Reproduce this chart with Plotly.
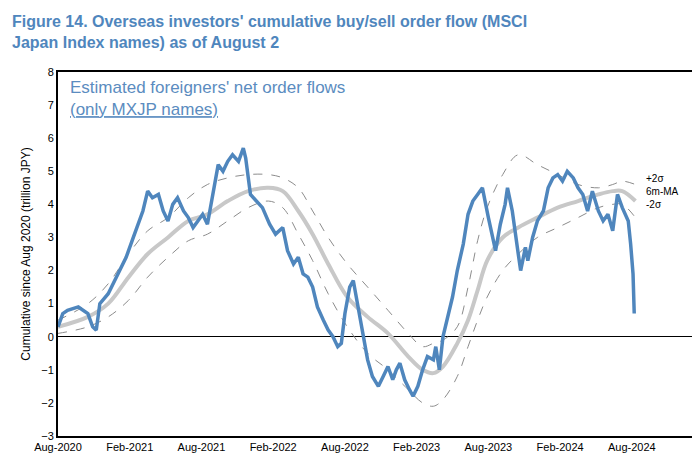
import plotly.graph_objects as go

# months since Aug-2020
flow_m = [0, .4, .8, 1.7, 2.5, 2.9, 3.2, 3.5, 4.2, 5.0, 5.7, 6.3, 7.1, 7.5, 7.9, 8.4, 8.8, 9.2, 9.6, 10.0,
          10.5, 10.9, 11.3, 11.7, 12.1, 12.5, 13.0, 13.4, 13.8, 14.2, 14.6, 15.1, 15.5, 15.7, 16.1, 16.6,
          17.1, 17.7, 18.2, 18.8, 19.2, 19.7, 20.1, 20.5, 20.9, 21.3, 21.7, 22.2, 22.6, 23.0, 23.4, 23.7,
          24.0, 24.4, 24.7, 24.9, 25.3, 25.6, 25.9, 26.3, 26.8, 27.2, 27.6, 28.0, 28.3, 28.6, 29.0, 29.4,
          29.7, 30.1, 30.5, 30.9, 31.4, 31.6, 31.9, 32.2, 32.6, 33.0, 33.4, 33.9, 34.3, 34.7, 35.1, 35.5,
          36.0, 36.4, 36.6, 37.0, 37.4, 37.6, 38.0, 38.5, 38.7, 39.1, 39.3, 39.7, 40.1, 40.6, 41.0, 41.4,
          41.8, 42.2, 42.6, 43.1, 43.5, 43.9, 44.3, 44.7, 45.2, 45.6, 46.0, 46.4, 46.8, 47.2, 47.7, 47.9,
          48.1, 48.2]
flow = [0.3, 0.7, 0.8, 0.9, 0.7, 0.3, 0.2, 1.0, 1.3, 1.9, 2.4, 3.0, 3.8, 4.4, 4.2, 4.3, 3.8, 3.5, 4.0, 4.2,
        3.8, 3.6, 3.3, 3.5, 3.7, 3.4, 4.4, 5.2, 5.0, 5.3, 5.5, 5.3, 5.7, 5.4, 4.3, 4.1,
        3.9, 3.4, 3.1, 3.3, 2.6, 2.2, 2.4, 1.9, 1.8, 1.5, 0.9, 0.5, 0.2, 0.0, -0.3, -0.2,
        0.7, 1.5, 1.7, 1.3, 0.5, -0.2, -0.7, -1.2, -1.5, -1.2, -0.9, -1.3, -1.0, -0.8, -1.3, -1.6,
        -1.8, -1.5, -1.0, -0.6, -0.7, -0.3, -1.0, 0.0, 0.6, 1.2, 2.0, 2.8, 3.7, 4.1, 4.3, 4.5,
        3.6, 3.0, 2.6, 3.4, 4.0, 4.5, 3.8, 2.5, 2.0, 2.7, 2.3, 3.0, 3.5, 3.8, 4.5, 4.8,
        4.9, 4.7, 5.0, 4.8, 4.5, 4.3, 3.8, 4.4, 3.8, 3.5, 3.7, 3.2, 4.3, 3.9, 3.5, 2.8,
        1.9, 0.7]

band_m = [0, 2.5, 4.2, 5.9, 7.5, 9.2, 10.9, 12.5, 14.2, 15.9, 17.6, 18.8, 20.1, 21.3, 22.6, 24.2, 25.9,
          27.6, 29.3, 30.5, 31.4, 32.2, 33.4, 34.3, 35.1, 35.9, 37.2, 38.5, 40.1, 41.8, 43.5, 45.2, 46.4,
          47.2, 48.3]
ma = [0.3, 0.6, 1.0, 1.8, 2.5, 3.0, 3.5, 3.7, 4.1, 4.4, 4.5, 4.4, 3.8, 3.1, 2.2, 1.2, 0.6, 0.1, -0.6, -1.0,
      -1.1, -0.9, -0.2, 0.5, 1.4, 2.3, 3.0, 3.3, 3.6, 3.9, 4.1, 4.3, 4.4, 4.4, 4.1]
upper = [0.5, 1.0, 1.6, 2.5, 3.2, 3.6, 4.2, 4.6, 4.8, 4.9, 4.9, 4.8, 4.5, 3.8, 3.0, 2.2, 1.5, 0.8, 0.1, -0.3,
         -0.2, -0.1, 0.3, 1.5, 2.9, 3.9, 4.9, 5.5, 5.2, 4.9, 4.6, 4.5, 4.6, 4.7, 4.6]
lower = [0.1, 0.3, 0.6, 1.1, 1.8, 2.4, 2.9, 3.1, 3.5, 3.9, 4.1, 3.9, 3.1, 2.3, 1.3, 0.3, -0.5, -1.0, -1.6, -2.0,
         -2.1, -1.9, -1.2, -0.3, 0.5, 1.2, 2.0, 2.5, 3.0, 3.3, 3.6, 3.9, 4.0, 4.0, 3.6]

tick_m = [0, 6, 12, 18, 24, 30, 36, 42, 48]
tick_labels = ["Aug-2020", "Feb-2021", "Aug-2021", "Feb-2022", "Aug-2022",
               "Feb-2023", "Aug-2023", "Feb-2024", "Aug-2024"]

blue = "#4f86bd"
fig = go.Figure()
for y in (upper, lower):
    fig.add_trace(go.Scatter(x=band_m, y=y, mode="lines", line=dict(color="#8c8c8c", width=1, dash="dash"),
                             line_shape="spline"))
fig.add_trace(go.Scatter(x=band_m, y=ma, mode="lines", line=dict(color="#c8c8c8", width=4), line_shape="spline"))
fig.add_trace(go.Scatter(x=flow_m, y=flow, mode="lines", line=dict(color=blue, width=3.5)))

fig.update_layout(
    width=700, height=457, showlegend=False, plot_bgcolor="white", paper_bgcolor="white",
    margin=dict(l=50, r=14, t=64, b=20),
    font=dict(family="Liberation Sans", size=11, color="black"),
    xaxis=dict(range=[0, 53.2], tickvals=tick_m, ticktext=tick_labels, showgrid=False,
               showline=True, mirror=True, linecolor="black", linewidth=2, zeroline=False, ticks=""),
    yaxis=dict(range=[-3, 8], dtick=1, showgrid=False, showline=True, mirror=True, linecolor="black",
               linewidth=2, zeroline=True, zerolinecolor="black", zerolinewidth=1, ticks="",
               title=dict(text="Cumulative since Aug 2020 (trillion JPY)", standoff=8, font=dict(size=12))),
    annotations=[
        dict(text="<b>Figure 14. Overseas investors' cumulative buy/sell order flow (MSCI<br>Japan Index names) as of August 2</b>",
             xref="paper", yref="paper", x=-0.075, y=1.168, xanchor="left", yanchor="top", showarrow=False,
             align="left", font=dict(size=16, color=blue)),
        dict(text="Estimated foreigners' net order flows<br><u>(only MXJP names)</u>", xref="paper", yref="paper",
             x=0.015, y=0.99, xanchor="left", yanchor="top", showarrow=False, align="left",
             font=dict(size=17, color="#5b8cc0")),
        dict(text="+2σ<br>6m-MA<br>-2σ", xref="x", yref="y", x=49.0, y=4.4, xanchor="left", showarrow=False,
             align="left", font=dict(size=10)),
    ],
)
fig.write_html("out.html")
